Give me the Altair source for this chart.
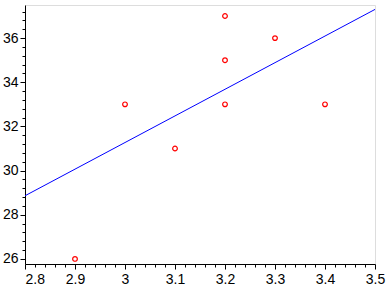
import altair as alt
import pandas as pd

# data
pt_x = [2.9, 3.0, 3.1, 3.2, 3.4, 3.2, 3.2, 3.3]
pt_y = [26, 33, 31, 33, 33, 37, 35, 36]
line_x = [2.8, 3.5]
line_y = [28.86, 37.3]
x_ticks = [round(2.8 + 0.02 * i, 2) for i in range(36)]
y_ticks = [round(26 + 0.4 * i, 1) for i in range(29)]

X_DOM = [2.8, 3.5]
Y_DOM = [25.77, 37.5]
W, H = 350, 259

xs = alt.Scale(domain=X_DOM, nice=False, zero=False)
ys = alt.Scale(domain=Y_DOM, nice=False, zero=False)

pts = pd.DataFrame({"x": pt_x, "y": pt_y})
ln = pd.DataFrame({"x": line_x, "y": line_y})

x_major_test = "abs(datum.value * 10 - round(datum.value * 10)) < 0.001"
y_major_test = "abs(datum.value / 2 - round(datum.value / 2)) < 0.001"

xaxis = alt.Axis(values=x_ticks, tickCount=200, title=None, grid=False,
                 tickSize={"condition": {"test": x_major_test, "value": 5}, "value": 3},
                 labelFontSize=14, labelFont="Liberation Sans", labelColor="black",
                 domainColor="black", tickColor="black", labelPadding=3,
                 labelFlush=False, labelOverlap=False,
                 labelAlign={"condition": {"test": "datum.value <= 2.8", "value": "left"}, "value": "center"},
                 labelExpr="(" + x_major_test + ") ? (datum.value == 3 ? '3' : format(datum.value, '.1f')) : ''")
yaxis = alt.Axis(values=y_ticks, tickCount=200, title=None, grid=False,
                 tickSize={"condition": {"test": y_major_test, "value": 5}, "value": 3},
                 labelFontSize=14, labelFont="Liberation Sans", labelColor="black",
                 domainColor="black", tickColor="black", labelPadding=2,
                 labelOverlap=False,
                 labelExpr="(" + y_major_test + ") ? format(datum.value, 'd') : ''")

line = alt.Chart(ln).mark_line(color="#0000ff", strokeWidth=1).encode(
    x=alt.X("x:Q", scale=xs, axis=xaxis),
    y=alt.Y("y:Q", scale=ys, axis=yaxis),
)
points = alt.Chart(pts).mark_point(filled=False, color="#ff0000", size=22, strokeWidth=1.2, opacity=1).encode(
    x=alt.X("x:Q", scale=xs),
    y=alt.Y("y:Q", scale=ys),
)

chart = alt.layer(line, points).properties(
    width=W, height=H,
    autosize=alt.AutoSizeParams(type="none"),
    padding={"left": 25, "top": 5, "right": 13, "bottom": 24},
).configure_view(stroke=None).configure(background="white")

chart.save("out.html", embed_options={"renderer": "svg", "actions": False})
